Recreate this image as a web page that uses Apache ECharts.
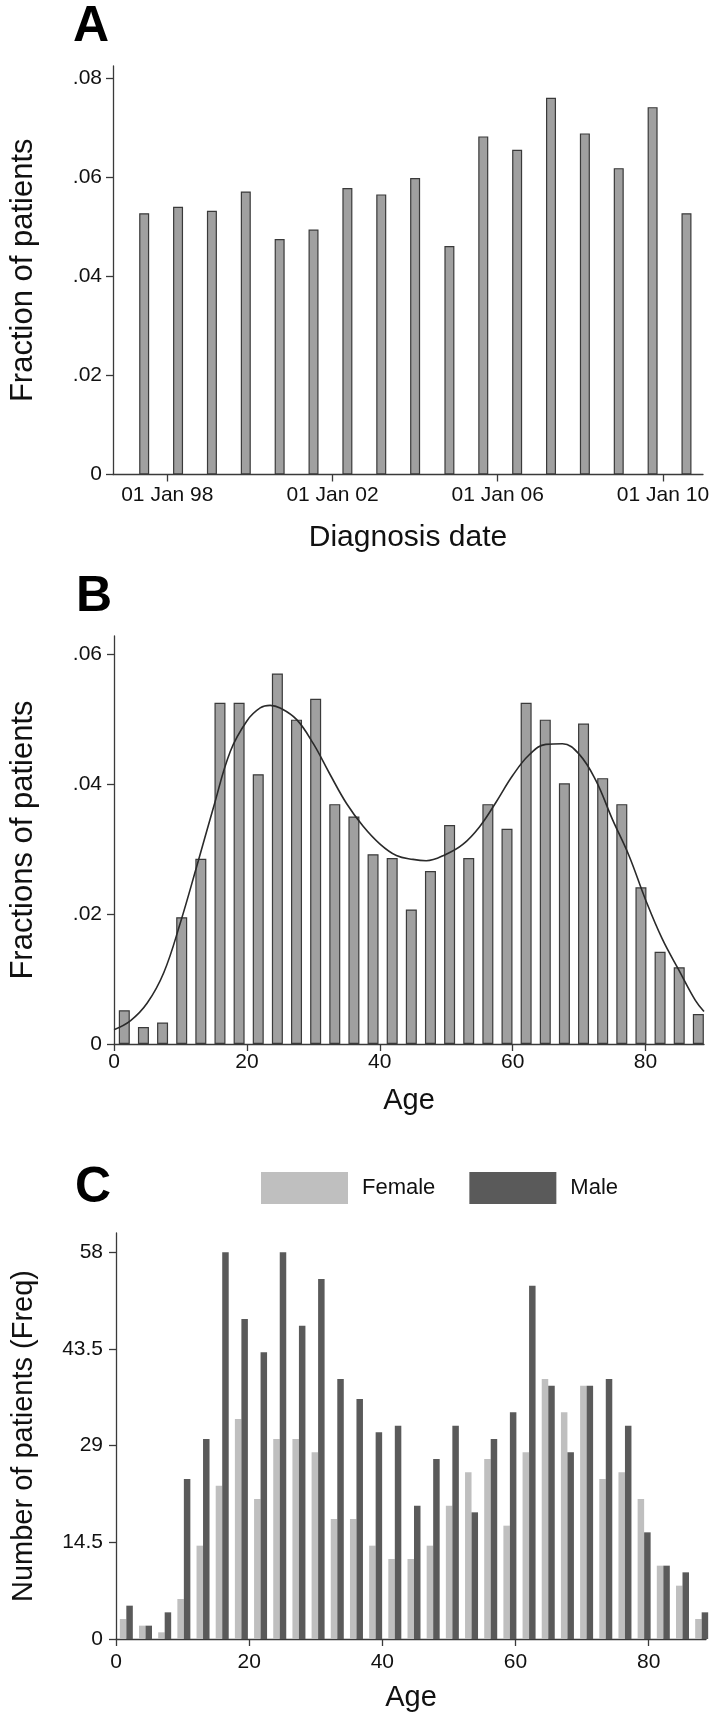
<!DOCTYPE html>
<html>
<head>
<meta charset="utf-8">
<script src="https://cdn.jsdelivr.net/npm/echarts@6/dist/echarts.min.js"></script>
<style>
html,body{margin:0;padding:0;background:#fff;}
#chart{width:716px;height:1722px;}
</style>
</head>
<body>
<div id="chart"></div>
<script>
// Panel A: diagnosis date histogram (bin centres in decimal years)
const dateBinCenters = [1997.44, 1998.26, 1999.08, 1999.90, 2000.72, 2001.54, 2002.36, 2003.18, 2004.00, 2004.83, 2005.65, 2006.47, 2007.29, 2008.11, 2008.93, 2009.75, 2010.57];
const fractionByDate = [0.0527, 0.0540, 0.0532, 0.0571, 0.0475, 0.0494, 0.0578, 0.0565, 0.0598, 0.0461, 0.0682, 0.0655, 0.0760, 0.0688, 0.0618, 0.0741, 0.0527];
const dateTickValues = [1998, 2002, 2006, 2010];
const dateTickLabels = ['01 Jan 98', '01 Jan 02', '01 Jan 06', '01 Jan 10'];
const fracTicksA = [0, 0.02, 0.04, 0.06, 0.08];

// Panel B: age histogram + density curve
const ageBinCenters = [1.55, 4.43, 7.31, 10.19, 13.07, 15.95, 18.83, 21.71, 24.59, 27.47, 30.35, 33.23, 36.11, 38.99, 41.87, 44.75, 47.63, 50.51, 53.39, 56.27, 59.15, 62.03, 64.91, 67.79, 70.67, 73.55, 76.43, 79.31, 82.19, 85.07, 87.95];
const fractionByAge = [0.0052, 0.0026, 0.0033, 0.0195, 0.0285, 0.0525, 0.0525, 0.0415, 0.0570, 0.0499, 0.0531, 0.0369, 0.0350, 0.0292, 0.0286, 0.0207, 0.0266, 0.0337, 0.0286, 0.0369, 0.0331, 0.0525, 0.0499, 0.0401, 0.0493, 0.0409, 0.0369, 0.0241, 0.0142, 0.0118, 0.0046];
const densityAge = [0, 2.5, 5, 7.5, 10, 12.5, 15, 17.5, 20, 22, 23.5, 25, 27.5, 30, 32.5, 35, 37.5, 40, 42.5, 45, 47, 50, 52.5, 55, 57.5, 60, 62.5, 65, 67.5, 70, 72.5, 75, 77.5, 80, 82.5, 85, 87.5, 88.8];
const densityValue = [0.0022, 0.0036, 0.0063, 0.0110, 0.0187, 0.0275, 0.0365, 0.0450, 0.0497, 0.0517, 0.0521, 0.0517, 0.0499, 0.0462, 0.0415, 0.0370, 0.0335, 0.0308, 0.0290, 0.0284, 0.0282, 0.0292, 0.0307, 0.0334, 0.0372, 0.0413, 0.0445, 0.0461, 0.0462, 0.0446, 0.0406, 0.0346, 0.0290, 0.0222, 0.0162, 0.0114, 0.0067, 0.0050];
const fracTicksB = [0, 0.02, 0.04, 0.06];
const ageTicks = [0, 20, 40, 60, 80];

// Panel C: counts by sex
const femaleCount = [3, 2, 1, 6, 14, 23, 33, 21, 30, 30, 28, 18, 18, 14, 12, 12, 14, 20, 25, 27, 17, 28, 39, 34, 38, 24, 25, 21, 11, 8, 3];
const maleCount = [5, 2, 4, 24, 30, 58, 48, 43, 58, 47, 54, 39, 36, 31, 32, 20, 27, 32, 19, 30, 34, 53, 38, 28, 38, 39, 32, 16, 11, 10, 4];
const countTicks = [0, 14.5, 29, 43.5, 58];

const FONT = "'Liberation Sans', Arial, Helvetica, sans-serif";
const INK = '#111';
const AXIS = '#3a3a3a';

function fracFmt(v) {
  if (v === 0) return '0';
  return v.toFixed(2).replace(/^0/, '');
}

function axisCommon() {
  return {
    axisLine: { show: true, onZero: false, lineStyle: { color: AXIS, width: 1.3 } },
    axisTick: { show: true, inside: false, length: 7, lineStyle: { color: AXIS, width: 1.3 } },
    splitLine: { show: false },
    axisLabel: { color: INK, fontSize: 21, fontFamily: FONT },
    nameTextStyle: { color: INK, fontFamily: FONT },
    nameLocation: 'middle'
  };
}

function xAxisDef(gridIndex, min, max, ticks, fmt, name, nameGap, nameSize, margin) {
  const a = axisCommon();
  a.type = 'value';
  a.gridIndex = gridIndex;
  a.min = min; a.max = max;
  a.axisTick.customValues = ticks;
  a.axisLabel.customValues = ticks;
  a.axisLabel.formatter = fmt;
  a.axisLabel.margin = margin;
  a.axisLabel.showMinLabel = true;
  a.axisLabel.showMaxLabel = true;
  a.name = name; a.nameGap = nameGap;
  a.nameTextStyle.fontSize = nameSize;
  return a;
}
function yAxisDef(gridIndex, min, max, ticks, fmt, name, nameGap, nameSize, margin) {
  const a = axisCommon();
  a.type = 'value';
  a.gridIndex = gridIndex;
  a.min = min; a.max = max;
  a.axisTick.customValues = ticks;
  a.axisLabel.customValues = ticks;
  a.axisLabel.formatter = fmt;
  a.axisLabel.margin = margin;
  a.name = name; a.nameGap = nameGap;
  a.nameTextStyle.fontSize = nameSize;
  return a;
}

const chart = echarts.init(document.getElementById('chart'), null, { renderer: 'canvas', width: 716, height: 1722 });

const option = {
  backgroundColor: '#ffffff',
  animation: false,
  title: [
    { text: 'A', left: 73, top: 2, padding: 0, textStyle: { fontSize: 50, fontWeight: 'bold', color: '#000', fontFamily: FONT } },
    { text: 'B', left: 76, top: 572, padding: 0, textStyle: { fontSize: 50, fontWeight: 'bold', color: '#000', fontFamily: FONT } },
    { text: 'C', left: 75, top: 1163, padding: 0, textStyle: { fontSize: 50, fontWeight: 'bold', color: '#000', fontFamily: FONT } }
  ],
  legend: {
    data: ['Female', 'Male'],
    left: 261, top: 1172,
    orient: 'horizontal',
    icon: 'rect',
    itemWidth: 87, itemHeight: 32, itemGap: 34,
    padding: 0,
    textStyle: { fontSize: 22, color: INK, fontFamily: FONT, padding: [0, 0, 0, 9] },
    selectedMode: false
  },
  grid: [
    { left: 113, top: 66, width: 590, height: 408.5 },
    { left: 114, top: 636, width: 590, height: 408 },
    { left: 116, top: 1233, width: 590, height: 406 }
  ],
  xAxis: [
    xAxisDef(0, 1996.685, 2010.97, dateTickValues, v => dateTickLabels[dateTickValues.indexOf(Math.round(v))] || '', 'Diagnosis date', 48, 30, 10),
    xAxisDef(1, 0, 88.8, ageTicks, v => String(v), 'Age', 42, 29, 8),
    xAxisDef(2, 0, 88.6, ageTicks, v => String(v), 'Age', 44, 29, 13)
  ],
  yAxis: [
    yAxisDef(0, 0, 0.0824, fracTicksA, fracFmt, 'Fraction of patients', 74, 31, 11),
    yAxisDef(1, 0, 0.06277, fracTicksB, fracFmt, 'Fractions of patients', 75, 31, 12),
    yAxisDef(2, 0, 60.9, countTicks, v => String(v), 'Number of patients (Freq)', 78, 29, 13)
  ],
  series: [
    {
      type: 'bar', name: 'A', xAxisIndex: 0, yAxisIndex: 0,
      data: dateBinCenters.map((x, i) => [x, fractionByDate[i]]),
      barWidth: 10,
      itemStyle: { color: '#a0a0a0', borderColor: '#3a3a3a', borderWidth: 1.2 }
    },
    {
      type: 'bar', name: 'B', xAxisIndex: 1, yAxisIndex: 1,
      data: ageBinCenters.map((x, i) => [x, fractionByAge[i]]),
      barWidth: 11,
      itemStyle: { color: '#a0a0a0', borderColor: '#3a3a3a', borderWidth: 1.2 }
    },
    {
      type: 'line', name: 'density', xAxisIndex: 1, yAxisIndex: 1,
      data: densityAge.map((x, i) => [x, densityValue[i]]),
      smooth: 0.4, symbol: 'none',
      lineStyle: { color: '#2a2a2a', width: 1.6 },
      z: 5
    },
    {
      type: 'bar', name: 'Female', xAxisIndex: 2, yAxisIndex: 2,
      data: ageBinCenters.map((x, i) => [x, femaleCount[i]]),
      barWidth: 6.5, barGap: '0%',
      itemStyle: { color: '#bfbfbf' }
    },
    {
      type: 'bar', name: 'Male', xAxisIndex: 2, yAxisIndex: 2,
      data: ageBinCenters.map((x, i) => [x, maleCount[i]]),
      barWidth: 6.5, barGap: '0%',
      itemStyle: { color: '#5a5a5a' }
    }
  ]
};
chart.setOption(option);
</script>
</body>
</html>
